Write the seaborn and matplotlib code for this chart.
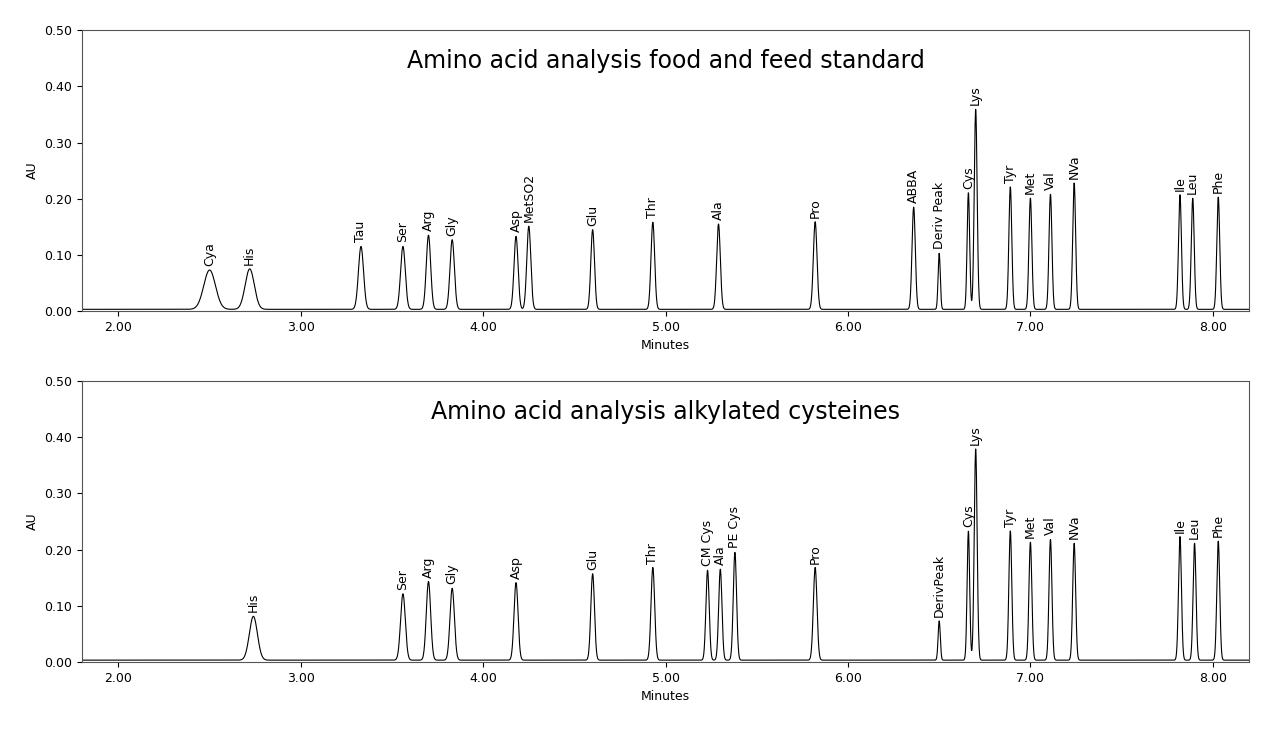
import numpy as np
import pandas as pd
import matplotlib
matplotlib.use("Agg")
import matplotlib.pyplot as plt
import seaborn as sns

# Top chromatogram peaks
top_labels = ["Cya","His","Tau","Ser","Arg","Gly","Asp","MetSO2","Glu","Thr","Ala","Pro",
              "ABBA","Deriv Peak","Cys","Lys","Tyr","Met","Val","NVa","Ile","Leu","Phe"]
top_times = [2.50,2.72,3.33,3.56,3.70,3.83,4.18,4.25,4.60,4.93,5.29,5.82,
             6.36,6.50,6.66,6.70,6.89,7.00,7.11,7.24,7.82,7.89,8.03]
top_heights = [0.070,0.072,0.112,0.112,0.132,0.124,0.130,0.148,0.142,0.155,0.152,0.156,
               0.182,0.100,0.208,0.356,0.218,0.198,0.205,0.225,0.204,0.198,0.200]
top_widths = [0.032,0.025,0.014,0.013,0.012,0.012,0.011,0.011,0.010,0.010,0.010,0.010,
              0.009,0.006,0.007,0.008,0.008,0.008,0.008,0.008,0.008,0.008,0.008]

# Bottom chromatogram peaks
bot_labels = ["His","Ser","Arg","Gly","Asp","Glu","Thr","CM Cys","Ala","PE Cys","Pro",
              "DerivPeak","Cys","Lys","Tyr","Met","Val","NVa","Ile","Leu","Phe"]
bot_times = [2.74,3.56,3.70,3.83,4.18,4.60,4.93,5.23,5.30,5.38,5.82,
             6.50,6.66,6.70,6.89,7.00,7.11,7.24,7.82,7.90,8.03]
bot_heights = [0.078,0.118,0.140,0.128,0.138,0.154,0.165,0.160,0.162,0.192,0.165,
               0.070,0.230,0.376,0.230,0.210,0.215,0.208,0.220,0.208,0.212]
bot_widths = [0.022,0.013,0.012,0.012,0.011,0.010,0.010,0.009,0.009,0.009,0.010,
              0.006,0.007,0.008,0.008,0.008,0.008,0.008,0.008,0.008,0.008]

titles = ["Amino acid analysis food and feed standard", "Amino acid analysis alkylated cysteines"]
xticks = [2.0,3.0,4.0,5.0,6.0,7.0,8.0]
yticks = [0.0,0.1,0.2,0.3,0.4,0.5]

t = np.linspace(1.8, 8.2, 6000)

def trace(times, heights, widths):
    y = np.full_like(t, 0.003)
    for c, h, w in zip(times, heights, widths):
        y += h * np.exp(-0.5 * ((t - c) / w) ** 2)
    return y

fig = plt.figure(figsize=(12.8, 7.37), dpi=100)
axes = [fig.add_axes([0.064, 0.578, 0.912, 0.381]),
        fig.add_axes([0.064, 0.102, 0.912, 0.381])]
sets = [(top_labels, top_times, top_heights, top_widths),
        (bot_labels, bot_times, bot_heights, bot_widths)]
for ax, (labs, tm, hs, ws), title in zip(axes, sets, titles):
    df = pd.DataFrame({"Minutes": t, "AU": trace(tm, hs, ws)})
    sns.lineplot(data=df, x="Minutes", y="AU", ax=ax, color="black", linewidth=0.8)
    ax.set_xlim(1.8, 8.2)
    ax.set_ylim(0, 0.5)
    ax.set_xticks(xticks)
    ax.set_xticklabels([f"{v:.2f}" for v in xticks], fontsize=9)
    ax.set_yticks(yticks)
    ax.set_yticklabels([f"{v:.2f}" for v in yticks], fontsize=9)
    ax.set_xlabel("Minutes", fontsize=9)
    ax.set_ylabel("AU", fontsize=9)
    for s in ax.spines.values():
        s.set_color("#555555"); s.set_linewidth(0.8)
    ax.text(0.5, 0.89, title, transform=ax.transAxes, ha="center", va="center", fontsize=17)
    for lab, c, h in zip(labs, tm, hs):
        ax.text(c, h + 0.01, lab, rotation=90, ha="center", va="bottom", fontsize=9)

fig.savefig("out.png", dpi=100)
